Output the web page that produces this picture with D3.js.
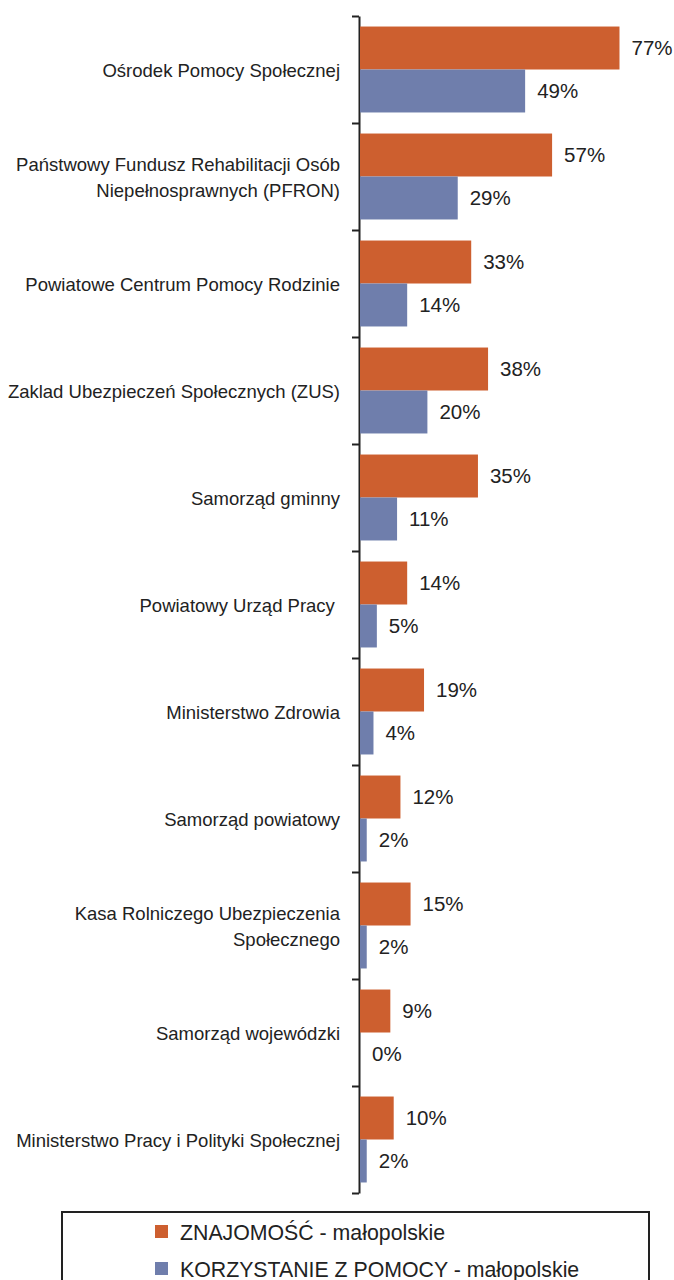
<!DOCTYPE html>
<html>
<head>
<meta charset="utf-8">
<script src="https://cdn.jsdelivr.net/npm/d3@7"></script>
<style>
  body { margin: 0; background: #fff; }
  text { font-family: "Liberation Sans", Arial, sans-serif; fill: #222; }
</style>
</head>
<body>
<svg id="chart" width="674" height="1280"></svg>
<script>
const categories = [
  ['Ośrodek Pomocy Społecznej'],
  ['Państwowy Fundusz Rehabilitacji Osób', 'Niepełnosprawnych (PFRON)'],
  ['Powiatowe Centrum Pomocy Rodzinie'],
  ['Zaklad Ubezpieczeń Społecznych (ZUS)'],
  ['Samorząd gminny'],
  ['Powiatowy Urząd Pracy '],
  ['Ministerstwo Zdrowia'],
  ['Samorząd powiatowy'],
  ['Kasa Rolniczego Ubezpieczenia', 'Społecznego'],
  ['Samorząd wojewódzki'],
  ['Ministerstwo Pracy i Polityki Społecznej'],
]

const znajomosc = [77, 57, 33, 38, 35, 14, 19, 12, 15, 9, 10]
const korzystanie = [49, 29, 14, 20, 11, 5, 4, 2, 2, 0, 2]

const seriesNames = ['ZNAJOMOŚĆ - małopolskie', 'KORZYSTANIE Z POMOCY - małopolskie']
const colors = ['#cd5f2f', '#6f7eac']

const svg = d3.select('#chart')

const x = d3.scaleLinear().domain([0, 100]).range([359, 696])
const y = d3.scaleBand().domain(d3.range(categories.length)).range([16, 1193])
const inner = d3.scaleBand().domain([0, 1]).range([0, y.bandwidth()]).paddingOuter(0.245)

// axis, ticks sit between the categories
const tickScale = d3.scaleLinear().domain([0, categories.length]).range([16, 1193])
svg.append('g')
  .attr('transform', `translate(${ x(0) },0)`)
  .call(d3.axisLeft(tickScale)
    .tickValues(d3.range(categories.length + 1))
    .tickFormat('')
    .tickSizeInner(7)
    .tickSizeOuter(0))
  .call(g => g.selectAll('path, line').attr('stroke', '#222').attr('stroke-width', 2))

const rows = categories.map((c, i) => ({ i, values: [znajomosc[i], korzystanie[i]] }))

const groups = svg.selectAll('g.row')
  .data(rows)
  .enter()
  .append('g')
  .attr('class', 'row')
  .attr('transform', d => `translate(0,${ y(d.i) })`)

groups.selectAll('rect')
  .data(d => d.values.map((v, s) => ({ v, s })))
  .enter()
  .append('rect')
  .attr('x', x(0) + 1)
  .attr('y', d => inner(d.s))
  .attr('width', d => Math.max(0, x(d.v) - x(0)))
  .attr('height', inner.bandwidth())
  .attr('fill', d => colors[d.s])

groups.selectAll('text.val')
  .data(d => d.values.map((v, s) => ({ v, s })))
  .enter()
  .append('text')
  .attr('class', 'val')
  .attr('x', d => x(d.v) + 13)
  .attr('y', d => inner(d.s) + inner.bandwidth() / 2)
  .attr('dy', '0.36em')
  .attr('font-size', 20.5)
  .text(d => `${ d.v }%`)

// category labels
groups.append('text')
  .attr('text-anchor', 'end')
  .attr('font-size', 18.5)
  .attr('xml:space', 'preserve')
  .each(function (d) {
    const lines = categories[d.i]
    const lh = 25.7
    d3.select(this).selectAll('tspan')
      .data(lines)
      .enter()
      .append('tspan')
      .attr('x', 340)
      .attr('y', (l, k) => y.bandwidth() / 2 + 1 + (k - (lines.length - 1) / 2) * lh)
      .attr('dy', '0.35em')
      .text(l => l)
  })

// legend
const legend = svg.append('g')
legend.append('rect')
  .attr('x', 62).attr('y', 1212)
  .attr('width', 587).attr('height', 80)
  .attr('fill', 'none').attr('stroke', '#222').attr('stroke-width', 2)

const items = legend.selectAll('g.item')
  .data(seriesNames)
  .enter()
  .append('g')
  .attr('transform', (d, i) => `translate(155,${ 1239.5 + i * 37 })`)

items.append('rect')
  .attr('x', 0).attr('y', -14.5)
  .attr('width', 13).attr('height', 13)
  .attr('fill', (d, i) => colors[i])

items.append('text')
  .attr('x', 25)
  .attr('font-size', 21.3)
  .text(d => d)
</script>
</body>
</html>
